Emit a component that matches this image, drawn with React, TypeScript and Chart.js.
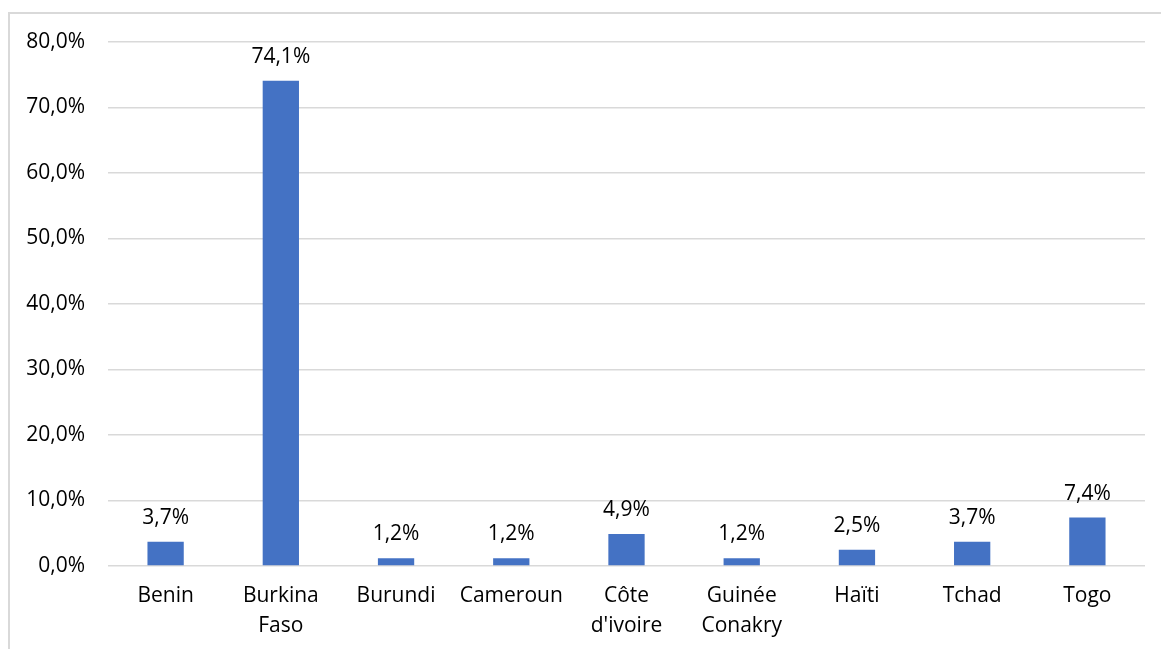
import React, { useEffect, useRef } from "react";
import { Chart, registerables } from "chart.js";

Chart.register(...registerables);

const categories: (string | string[])[] = [
  "Benin",
  ["Burkina", "Faso"],
  "Burundi",
  "Cameroun",
  ["Côte", "d'ivoire"],
  ["Guinée", "Conakry"],
  "Haïti",
  "Tchad",
  "Togo",
];
const values = [3.7, 74.1, 1.2, 1.2, 4.9, 1.2, 2.5, 3.7, 7.4];
const yMin = 0;
const yMax = 80;
const yStep = 10;

const FONT = "'Open Sans', sans-serif";
const FSIZE = 21;
const fmt = (v: number) => v.toFixed(1).replace(".", ",") + "%";

const dataLabelPlugin = {
  id: "dataLabels",
  afterDatasetsDraw(chart: any) {
    const ctx = chart.ctx;
    const meta = chart.getDatasetMeta(0);
    ctx.save();
    ctx.font = `${FSIZE}px ${FONT}`;
    ctx.fillStyle = "#000";
    ctx.textAlign = "center";
    ctx.textBaseline = "middle";
    meta.data.forEach((bar: any, i: number) => {
      ctx.fillText(fmt(values[i]), bar.x, bar.y - 24);
    });
    ctx.restore();
  },
};

export default function App() {
  const ref = useRef<HTMLCanvasElement>(null);
  useEffect(() => {
    if (!ref.current) return;
    const chart = new Chart(ref.current, {
      type: "bar",
      data: {
        labels: categories,
        datasets: [
          {
            data: values,
            backgroundColor: "#4472C4",
            barPercentage: 0.315,
            categoryPercentage: 1,
          },
        ],
      },
      options: {
        animation: false,
        responsive: false,
        maintainAspectRatio: false,
        layout: { padding: { top: 42, right: 16, left: 0, bottom: 0 } },
        plugins: { legend: { display: false }, tooltip: { enabled: false } },
        scales: {
          x: {
            grid: { display: false, drawTicks: false },
            border: { display: false },
            ticks: {
              font: { family: FONT, size: FSIZE, lineHeight: 30 / FSIZE },
              color: "#000",
              padding: 15,
              maxRotation: 0,
              autoSkip: false,
            },
            afterFit: (s: any) => {
              s.height = 83;
            },
          },
          y: {
            min: yMin,
            max: yMax,
            grid: { color: "#d9d9d9", lineWidth: 1.5, drawTicks: false },
            border: { display: false },
            ticks: {
              stepSize: yStep,
              font: { family: FONT, size: FSIZE },
              color: "#000",
              padding: 23,
              callback: (v: any) => fmt(Number(v)),
            },
            afterFit: (s: any) => {
              s.width = 108;
            },
          },
        },
      },
      plugins: [dataLabelPlugin],
    });
    return () => chart.destroy();
  }, []);
  return (
    <div
      style={{
        position: "fixed",
        left: 0,
        top: 0,
        width: 1161,
        height: 649,
        overflow: "hidden",
        background: "#fff",
      }}
    >
      <div
        style={{
          position: "absolute",
          left: 8,
          top: 12,
          width: 1170,
          height: 660,
          border: "2px solid #d9d9d9",
        }}
      />
      <canvas
        ref={ref}
        width={1161}
        height={649}
        style={{ position: "absolute", left: 0, top: 0, width: 1161, height: 649 }}
      />
    </div>
  );
}
